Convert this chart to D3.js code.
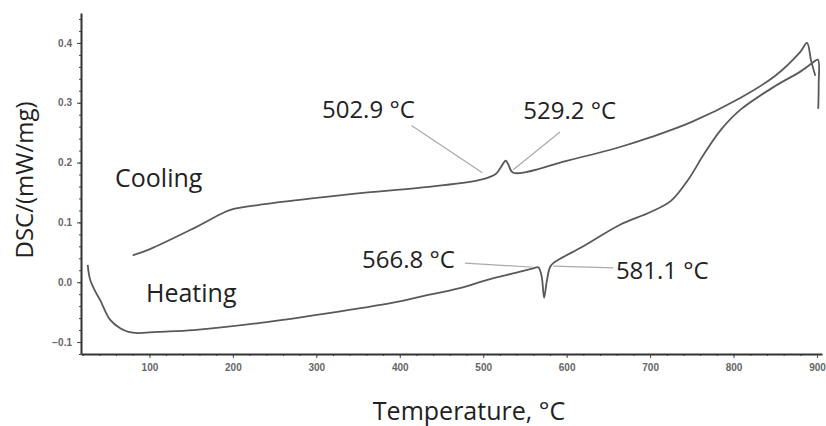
<!DOCTYPE html>
<html>
<head>
<meta charset="utf-8">
<script src="https://cdn.jsdelivr.net/npm/d3@7/dist/d3.min.js"></script>
<style>
  body { margin: 0; background: #fff; }
  .tick text { font-family: "Liberation Sans", Arial, sans-serif; font-size: 10px; font-weight: bold; fill: #666; }
  .lbl { font-family: "Open Sans", sans-serif; fill: #222; }
</style>
</head>
<body>
<script>
// DSC trace, heating run (temperature in C, DSC in mW/mg)
var heatT = [26, 29, 35, 41, 53, 65, 75, 86, 110, 153, 233, 313, 392, 425, 472, 505, 540, 560, 566,
             570, 573, 576, 580, 584, 620, 664, 700, 725, 745, 765, 785, 808, 850, 880, 894, 901, 902, 901.5];
var heatV = [0.029, 0.004, -0.015, -0.030, -0.063, -0.077, -0.083, -0.085, -0.083, -0.080, -0.068, -0.052, -0.034, -0.024, -0.010, 0.004, 0.016, 0.023, 0.025,
             0.010, -0.026, 0.000, 0.025, 0.032, 0.060, 0.096, 0.117, 0.136, 0.170, 0.215, 0.255, 0.288, 0.328, 0.352, 0.366, 0.372, 0.330, 0.290];

// cooling run
var coolT = [80, 100, 150, 190, 200, 230, 300, 353, 425, 496, 515, 527, 530, 536, 600, 664, 700, 750, 808, 850, 880, 888, 893, 898];
var coolV = [0.045, 0.055, 0.088, 0.117, 0.122, 0.129, 0.141, 0.149, 0.158, 0.171, 0.181, 0.203, 0.197, 0.183, 0.203, 0.226, 0.242, 0.268, 0.308, 0.345, 0.385, 0.400, 0.370, 0.345];

var xTicks = [100, 200, 300, 400, 500, 600, 700, 800, 900];
var yTicks = [-0.1, 0.0, 0.1, 0.2, 0.3, 0.4];

// peak labels: text, point on curve, end of leader line, text anchor
var noteText   = ['502.9 °C', '529.2 °C', '566.8 °C', '581.1 °C'];
var notePointT = [499, 536, 560, 584];
var notePointV = [0.183, 0.188, 0.025, 0.027];
var noteLineT  = [414, 592, 478, 656];
var noteLineV  = [0.262, 0.251, 0.032, 0.024];
var noteTextT  = [418, 548, 466, 659];
var noteTextV  = [0.275, 0.272, 0.024, 0.005];
var noteAnchor = ['end', 'start', 'end', 'start'];

var W = 826, H = 426;

var svg = d3.select('body').append('svg')
    .attr('width', W)
    .attr('height', H);

var x = d3.scaleLinear().domain([18, 906]).range([81, 822]);
var y = d3.scaleLinear().domain([-0.12, 0.45]).range([354, 13]);

// minor ticks first, so the major ones draw over them
svg.append('g')
    .attr('transform', 'translate(0,354)')
    .call(d3.axisBottom(x).tickValues(d3.range(20, 906, 20)).tickSize(2).tickFormat(''))
    .call(g => g.selectAll('line').attr('stroke', '#555'))
    .call(g => g.select('.domain').remove());

svg.append('g')
    .attr('transform', 'translate(81,0)')
    .call(d3.axisLeft(y).tickValues(d3.range(-0.12, 0.45, 0.02)).tickSize(2).tickFormat(''))
    .call(g => g.selectAll('line').attr('stroke', '#555'))
    .call(g => g.select('.domain').remove());

svg.append('g')
    .attr('transform', 'translate(0,354)')
    .call(d3.axisBottom(x).tickValues(xTicks).tickSize(4).tickSizeOuter(0).tickPadding(6));

svg.append('g')
    .attr('transform', 'translate(81,0)')
    .call(d3.axisLeft(y).tickValues(yTicks).tickFormat(d3.format('.1f')).tickSize(4).tickSizeOuter(0).tickPadding(5));

svg.selectAll('.domain').attr('stroke', '#333').attr('stroke-width', 2);
svg.selectAll('.tick line').attr('stroke', '#444');

// curves
var line = d3.line()
    .curve(d3.curveCatmullRom.alpha(0.5))
    .x(d => x(d[0]))
    .y(d => y(d[1]));

[[heatT, heatV], [coolT, coolV]].forEach(function(s) {
  svg.append('path')
      .datum(s[0].map((t, i) => [t, s[1][i]]))
      .attr('d', line)
      .attr('fill', 'none')
      .attr('stroke', '#595959')
      .attr('stroke-width', 1.8)
      .attr('stroke-linejoin', 'round');
});

// leader lines and peak labels
svg.selectAll('.leader')
  .data(noteText)
  .enter().append('line')
    .attr('class', 'leader')
    .attr('x1', (d, i) => x(noteLineT[i]))
    .attr('y1', (d, i) => y(noteLineV[i]))
    .attr('x2', (d, i) => x(notePointT[i]))
    .attr('y2', (d, i) => y(notePointV[i]))
    .attr('stroke', '#aaa')
    .attr('stroke-width', 1.2);

svg.selectAll('.note')
  .data(noteText)
  .enter().append('text')
    .attr('class', 'lbl note')
    .attr('x', (d, i) => x(noteTextT[i]))
    .attr('y', (d, i) => y(noteTextV[i]))
    .attr('text-anchor', (d, i) => noteAnchor[i])
    .attr('font-size', 24)
    .text(d => d);

svg.append('text')
    .attr('class', 'lbl')
    .attr('x', 115).attr('y', 187)
    .attr('font-size', 25)
    .text('Cooling');

svg.append('text')
    .attr('class', 'lbl')
    .attr('x', 146).attr('y', 302)
    .attr('font-size', 25)
    .text('Heating');

// axis titles
svg.append('text')
    .attr('class', 'lbl')
    .attr('transform', 'translate(33,180) rotate(-90)')
    .attr('text-anchor', 'middle')
    .attr('font-size', 24)
    .text('DSC/(mW/mg)');

svg.append('text')
    .attr('class', 'lbl')
    .attr('x', 469).attr('y', 420)
    .attr('text-anchor', 'middle')
    .attr('font-size', 25)
    .text('Temperature, °C');
</script>
</body>
</html>
